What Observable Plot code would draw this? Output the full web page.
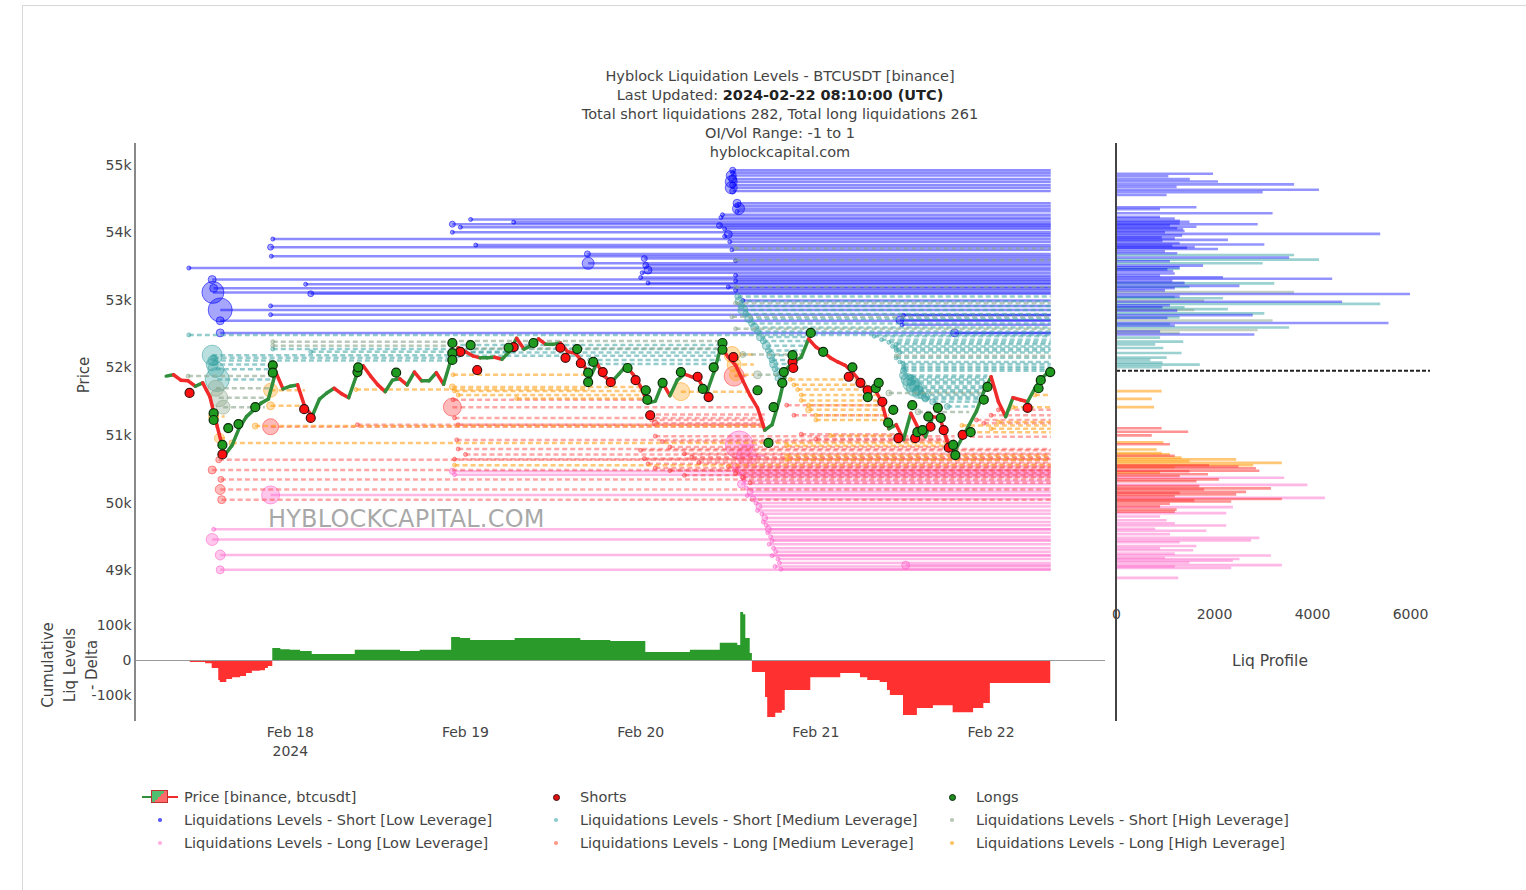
<!DOCTYPE html>
<html><head><meta charset="utf-8">
<script src="https://cdn.jsdelivr.net/npm/d3@7"></script>
<script src="https://cdn.jsdelivr.net/npm/@observablehq/plot@0.6"></script>
<style>
body{margin:0;background:#fff;font-family:"DejaVu Sans",sans-serif;color:#444;}
#root{position:relative;width:1526px;height:890px;overflow:hidden;background:#fff;}
.abs{position:absolute;}
#frame{position:absolute;left:22px;top:5px;width:1510px;height:900px;border-left:1px solid #d8d8d8;border-top:1px solid #d8d8d8;}
#title{position:absolute;left:430px;top:67px;width:700px;text-align:center;font-size:14.5px;line-height:19px;color:#444;}
#title b{color:#222;}
.vlab{position:absolute;transform:translate(-50%,-50%) rotate(-90deg);white-space:nowrap;font-size:15px;color:#444;text-align:center;}
.axisline{position:absolute;background:#888;width:2px;}
.leg{position:absolute;font-size:14.5px;color:#444;white-space:nowrap;line-height:16px;}
.ldot{position:absolute;width:4px;height:4px;border-radius:50%;}
#wm{position:absolute;left:268px;top:505px;font-size:24px;color:rgba(110,110,110,0.6);letter-spacing:0.2px;}
</style></head><body><div id="root">
<div id="frame"></div>
<div id="title">Hyblock Liquidation Levels - BTCUSDT [binance]<br>Last Updated: <b>2024-02-22 08:10:00 (UTC)</b><br>Total short liquidations 282, Total long liquidations 261<br>OI/Vol Range: -1 to 1<br>hyblockcapital.com</div>
<div id="main" class="abs" style="left:0;top:143px;"></div>
<div id="delta" class="abs" style="left:0;top:593px;"></div>
<div id="prof" class="abs" style="left:1100px;top:143px;"></div>
<div class="axisline" style="left:134px;top:143px;height:578px;"></div>
<div class="axisline" style="left:1115px;top:143px;height:578px;background:#444;"></div>
<div id="wm">HYBLOCKCAPITAL.COM</div>
<div class="vlab" style="left:84px;top:375px;">Price</div>
<div class="vlab" style="left:70px;top:665px;line-height:22px;">Cumulative<br>Liq Levels<br>- Delta</div>
<div class="abs" style="left:1170px;top:652px;width:200px;text-align:center;font-size:15.5px;color:#444;">Liq Profile</div>
<div id="legend"></div>
</div>
<script>
// ---------- DATA ----------
const startTime = Date.UTC(2024, 1, 17, 8);      // first candle
const lastUpdatedHour = 120.17;                   // 2024-02-22 08:10 UTC, hours after start
const dayTicks = ["2024-02-18", "2024-02-19", "2024-02-20", "2024-02-21", "2024-02-22"];
const priceTicks = [49000, 50000, 51000, 52000, 53000, 54000, 55000];
const deltaTicks = [-100000, 0, 100000];
const profileTicks = [0, 2000, 4000, 6000];

// hourly closes, BTCUSDT
const priceOpen0 = 51880;
const priceClose = [
51900,51820,51810,51730,51780,51570,51130,50710,50850,51110,
51280,51380,51480,51540,51940,51690,51730,51750,51420,51290,
51540,51630,51700,51620,51560,51870,52030,51880,51750,51650,
51820,51840,51750,51940,51810,51810,51930,51760,52120,52300,
52240,52180,52150,52150,52160,52130,52240,52440,52280,52330,
52430,52350,52350,52370,52240,52220,52100,51850,52070,51880,
51790,51910,52030,51900,51720,51480,51510,51780,51590,51820,
51910,51870,51820,51620,51930,52310,52160,52040,51810,51590,
51410,51080,51160,51530,51990,52100,52160,52430,52310,52240,
52150,52090,52040,51940,51810,51650,51700,51500,51100,51160,
50940,51330,51110,50980,51280,51260,50910,50760,50960,51160,
51360,51650,51870,51500,51280,51560,51530,51500,51700,51850,
51960];

// liquidated positions [hour, price]
const shorts = [[2.2,51630],[6.7,50720],[17.9,51390],[18.8,51260],[39.3,52240],[41.6,51970],[46.6,52310],[53,52300],[53.7,52150],[55.8,52070],[58.8,51940],[59.9,51790],[63.3,51820],[65.3,51300],[71.8,51870],[73.3,51570],[76.7,52160],[84.8,52090],[84.9,52000],[92.5,51870],[94.1,51780],[95.1,51670],[97.1,51500],[99.3,50960],[101.6,50960],[103.7,51130],[105.5,51080],[106.2,50820],[108.1,51010],[117,51410]];
const longs = [[5.5,51330],[5.5,51230],[6.7,50860],[7.5,51110],[8.9,51170],[11.2,51420],[13.6,52040],[13.6,51930],[25.2,51940],[25.3,52010],[30.5,51930],[38.2,52370],[38.2,52220],[38.2,52120],[40.7,52340],[45.9,52300],[49.3,52370],[55.3,52280],[57.5,52090],[56.8,51930],[56.8,51790],[62.2,52000],[64.7,51670],[64.9,51530],[67,51780],[69.5,51940],[72.5,51690],[74,52010],[75.2,52370],[75.2,52270],[80,51670],[81.5,50890],[82.2,51420],[83.4,51780],[83.6,51940],[84.8,52190],[87.3,52520],[89,52240],[93,52010],[96.2,51700],[96.6,51780],[95.1,51570],[98.6,51380],[97.9,51190],[101.2,51450],[101.9,51050],[102.6,51080],[103.4,51280],[104.7,51410],[105.1,51260],[107.1,50710],[106.8,50860],[109.2,51050],[111,51530],[111.5,51720],[118.5,51700],[118.8,51820],[120.1,51940]];

// liquidation levels [startHour, endHour (null = still open), price, bubble size]
const shortLow = [[76.6,null,54930,3],[76.6,null,54890,2],[76.4,null,54850,5],[76.6,null,54800,4],[76.4,null,54760,6],[76.6,null,54710,3],[76.4,null,54670,6],[76.6,null,54620,3],
[77.2,null,54440,4],[77.2,null,54400,2],[77.4,null,54360,6],[77.2,null,54320,2],[75.2,null,54270,2],[75.0,null,54230,2],
[40.7,null,54200,2],[46.6,null,54160,2],[38.2,null,54130,3],[74.8,null,54110,3],[39.3,null,54085,2],[75.5,null,54060,2],[38.2,null,54010,2],[76.0,null,53980,4],[75.5,null,53950,2],
[13.6,null,53910,2],[76.2,null,53870,2],[41.4,null,53820,2],[13.3,null,53790,3],[76.5,null,53750,2],[56.7,null,53690,3],[13.4,null,53655,2],[64.5,null,53620,3],[77.0,null,53590,2],[56.8,null,53550,6],[64.7,null,53520,3],[2.1,null,53480,2],[65.0,null,53450,4],[64.2,null,53410,2],[77.0,null,53370,2],[64.0,null,53340,2],
[5.3,null,53310,4],[77.0,null,53290,2],[65.0,null,53260,2],[18.1,null,53240,2],[76.0,null,53200,2],[5.5,null,53180,4],[77.0,null,53150,2],[5.4,null,53120,11],[18.8,null,53100,3],[78.0,null,53000,2],[13.3,null,52920,2],[6.4,null,52860,12],[13.3,null,52790,2],[100.0,null,52780,2],[99.5,null,52710,4],[6.4,null,52700,4],[99.8,null,52640,2],[6.4,null,52520,4],[107.0,null,52520,4]];
const shortMed = [[2.1,null,52490,2],[5.3,38,52190,10],[5.5,38,52150,3],[5.4,38,52110,5],[5.3,14,52050,6],[5.8,14,51980,8],[6.0,13.5,51830,12],[13.6,75,52280,2],[18.8,47,52240,2],[38.2,75,52340,2],[38.5,75,52230,2],[39,75,52180,2],[57,75,52120,2],[57,74.5,52060,2],
[77.3,null,53060,3],[77.5,null,52990,4],[77.8,null,52920,3],[78.0,null,52860,5],[78.4,null,52800,3],[78.8,null,52730,4],[79.2,null,52660,3],[79.6,null,52600,4],[80.0,null,52540,3],[80.4,87,52460,4],[80.8,87,52400,3],[81.2,86.8,52330,4],[81.5,86.5,52260,3],[81.8,85.5,52190,4],[82.0,85,52120,3],[82.2,84.8,52060,4],[82.4,84.5,51990,3],[82.6,84.2,51920,3],[82.8,84,51850,3],[83.0,83.8,51780,2],
[96,null,52470,2],[97,null,52420,2],[98,null,52380,2],[99,null,52350,2],[98.5,null,52320,2],[99,null,52290,2],[99,null,52260,2],[99.5,null,52230,2],[99,null,52150,2],[99.5,null,52090,2],[100,null,52060,2],[100,null,52020,2],[100,null,51990,2],[100,null,51960,3],[100,111.5,51890,4],[101,111.4,51860,3],[100.5,111.3,51830,6],[101,111.2,51800,4],[101,111.2,51770,8],[101.5,111.1,51730,5],[101.5,111,51700,8],[102,110.8,51670,5],[102,110.8,51640,6],[102.5,110.5,51600,4],[103,110.5,51570,4],[103,110.3,51540,3],[104,110.2,51500,3],[106,109.8,51430,3]];
const shortHigh = [[2.0,13.5,51880,2],[5.8,13.5,51700,8],[6.2,13,51560,9],[6.8,12.5,51420,7],[13.6,38,52330,2],[13.6,38,52390,2],[38,75,52400,2],[39,75,52290,2],[77,null,53775,2],[77,null,53600,2],[77,null,53200,2],[77,null,52960,2],[76.5,null,52760,2],[77,null,52580,2],[78,86,52200,3],[80,84,51900,4],[98,111,51630,3],[99,null,52180,2],[102,109,51350,3]];
const longLow = [[5.3,null,49460,6],[6.4,null,49230,5],[6.4,null,49010,4],[5.5,null,49610,2],[13.3,null,50120,9],[38.2,null,50470,3],[38.5,null,50420,2],[77.5,80,50860,14],[78.5,81,50700,10],
[77.0,null,50540,3],[77.0,null,50490,3],[77.5,null,50440,2],[78.0,null,50390,3],[78.2,null,50330,2],[77.8,null,50280,4],[78.5,null,50220,2],[79.0,null,50170,3],[78.6,null,50110,2],[79.4,null,50060,3],[79.8,null,50000,2],[80.2,null,49950,3],[80.0,null,49890,2],[80.6,null,49840,2],[81.0,null,49780,3],[80.8,null,49720,2],[81.2,null,49670,2],[81.5,null,49610,3],[81.4,null,49560,2],[81.8,null,49500,2],[82.0,null,49440,2],[81.6,null,49390,2],[82.2,null,49330,2],[82.5,null,49280,2],[82.0,null,49220,2],[82.8,null,49170,2],[83.0,null,49110,2],[100.3,null,49080,4],[82.4,null,49060,2],[83.2,null,49020,2]];
const longMed = [[5.3,null,50490,4],[6.4,null,50200,5],[6.6,null,50050,4],[6.2,null,50640,3],[6.5,null,50350,3],[13.3,81,51130,8],[25.2,81,51160,2],[38.3,65,51530,2],[38.2,80,51420,9],[38.5,81,51260,2],[39,81,51160,2],[38.8,107,50935,2],[39,null,50800,2],[40,null,50720,2],[38.5,null,50650,2],
[65,81,51310,2],[65.5,81,51230,2],[66,81,51180,3],[66,107,50990,2],[67,106.5,50910,2],[68,107,50830,2],[64,null,50780,2],[70,null,50730,2],[71,null,50680,2],[64.5,null,50660,2],[72,null,50600,2],[65,null,50580,2],[76,null,50540,2],[66,null,50520,2],[68,null,50480,2],[77,null,50440,2],[70,null,50410,2],[78,null,50380,2],[79,null,50300,2],[76.8,78.5,51880,10],
[84,97.5,51450,2],[85,98,51300,2],[86,100,51020,2],[88,106.5,50950,2],[108,null,50980,2],[110,null,51230,2],[112,null,51300,2],[111,null,51180,2],[113,null,51380,2]];
const longHigh = [[13.3,18,51670,7],[13.3,18,51440,4],[11.2,81,51140,3],[8,106.5,50890,3],[5.5,7,51280,5],[6.3,7,50960,5],[25,57,51680,2],[38.2,64.5,51720,3],[38.5,64.8,51660,2],[39,65,51600,2],[38.3,57,51900,2],[47,65,51550,2],[38.5,null,50560,2],[69.5,79,51650,9],[76.5,79.5,52200,8],[76.8,79.5,52050,7],[77,79.5,51900,6],
[84.5,94.5,51830,2],[85,95,51750,2],[85.5,96.5,51680,2],[86,97,51600,2],[86,97.5,51520,2],[87,98,51450,2],[87,98,51380,3],[88,98,51300,2],[88,98,51230,2],[90,100,51000,2],[84,106.5,50850,2],[84,null,50700,2],[84,null,50640,2],[108,null,51150,2],[109,null,51050,2],[112,null,51100,2],[113,null,51200,2],[115,null,51420,2],[118,null,51600,2]];

// cumulative liq levels delta (thousands), step changes [hour, value]
const deltaSteps = [[0,-1],[2.3,-6],[4.4,-9],[5.3,-23],[6.2,-57],[6.4,-63],[7.3,-54],[8.1,-49],[9.2,-46],[10,-37],[10.8,-31],[11.9,-29],[12.6,-23],[13,-17],[13.6,34],[14.7,31],[16,29],[17.4,26],[19,17],[24.9,29],[31.1,26],[33.8,29],[38.1,66],[39.3,63],[40.7,57],[46.8,63],[55.8,57],[59.9,54],[64.7,23],[70.8,29],[74.9,49],[77.3,43],[77.7,137],[78.1,131],[78.4,63],[79,20],[79.3,-34],[81.1,-106],[81.4,-163],[82.5,-151],[83.4,-143],[83.8,-86],[87.3,-49],[91.4,-37],[94.1,-49],[95.1,-57],[96.8,-63],[97.8,-86],[98.2,-100],[100,-157],[101.9,-137],[104.1,-129],[106.8,-149],[109.6,-137],[111,-123],[111.9,-66],[115.6,-66],[120.17,-60]];

// liquidation profile [price, size]
const profShortLow = [[54877,1980],[54840,1068],[54798,1507],[54762,2081],[54720,3635],[54683,1237],[54641,4142],[54605,2993],[54563,1034],[54380,1642],[54353,899],[54291,3196],[54238,899],[54215,1200],[54181,1304],[54165,1500],[54140,1300],[54128,2892],[54110,1100],[54092,1642],[54070,1250],[54055,1372],[54030,1400],[54010,1000],[53987,5392],[53960,1350],[53934,932],[53920,1200],[53898,2284],[53880,950],[53850,1300],[53830,3027],[53810,1150],[53793,1608],[53780,1450],[53762,2081],[53730,1000],[53700,1250],[53636,3534],[53580,1100],[53516,1777],[53490,1300],[53460,1050],[53437,1169],[53400,1200],[53370,900],[53343,2182],[53322,4412],[53290,1150],[53260,1400],[53217,2520],[53180,1200],[53150,1000],[53097,6000],[53060,1300],[52981,4615],[52930,1100],[52900,950],[52850,1250],[52783,2791],[52740,1050],[52667,5561],[52630,1200],[52540,900],[52495,2824]];
const profShortMed = [[53673,3635],[53605,4142],[53552,2993],[53470,1300],[53254,3230],[53200,1500],[53050,1200],[53034,2182],[52950,5392],[52900,1400],[52872,2284],[52809,3027],[52750,1300],[52650,1100],[52599,3534],[52450,900],[52390,1372],[52350,800],[52296,966],[52222,1338],[52154,1034],[52120,700],[52080,950],[52050,1710],[52013,932]];
const profShortHigh = [[53123,3635],[53000,1800],[52860,1600],[52704,3196],[52563,2892],[52520,1300]];
const profLongHigh = [[51657,932],[51542,730],[51421,777],[50898,966],[50793,831],[50741,932],[50720,1100],[50673,1338],[50646,2453],[50620,1500],[50594,3385],[50560,2800],[50530,1200],[50450,900]];
const profLongMed = [[51107,932],[51055,1473],[51002,730],[50871,1101],[50700,1200],[50560,1900],[50540,2500],[50515,2858],[50479,2926],[50470,1500],[50426,1878],[50400,1300],[50350,2100],[50322,1642],[50250,1700],[50217,3162],[50200,1800],[50165,2656],[50150,1300],[50128,2453],[50100,1200],[50060,3385],[50040,1600],[50023,2351],[49990,1100],[49950,900],[49903,1237],[49870,1200]];
const profLongLow = [[50374,3433],[50269,3906],[50076,4264],[49939,2385],[49851,2250],[49800,900],[49746,1034],[49700,1200],[49667,2250],[49620,800],[49589,1845],[49540,1100],[49484,2926],[49447,2757],[49420,1300],[49363,1642],[49330,900],[49301,1574],[49250,1200],[49222,3162],[49190,1000],[49170,2520],[49144,2385],[49120,1500],[49081,3385],[49060,1200],[49039,2351],[48892,1270]];

// ---------- STYLE ----------
const C = {
  shortLow: "#0000ff", shortMed: "#3aa3a3", shortHigh: "#8aa58a",
  longLow: "#ff5fc8", longMed: "#ff3b3b", longHigh: "#ffa21a",
  up: "#2f8f3a", down: "#f02a2a"
};
const hour = 3600e3;
const T = h => new Date(startTime + h * hour);
const xDomain = [T(-5.205), T(127.67)];
const yDomain = [48660, 55325];
const font = {fontFamily: "DejaVu Sans", fontSize: "14px", color: "#444", overflow: "visible", background: "transparent"};

function levelMarks(levels, color, dash, width, op) {
  const data = levels.map(([s, e, p, r]) => ({s: T(s), e: T(e == null ? lastUpdatedHour : e), p, r}));
  return [
    Plot.link(data, {x1: "s", x2: "e", y1: "p", y2: "p", stroke: color, strokeOpacity: op, strokeWidth: width, strokeDasharray: dash}),
    Plot.dot(data, {x: "s", y: "p", r: "r", fill: color, fillOpacity: 0.35, stroke: color, strokeOpacity: 0.55, strokeWidth: 1})
  ];
}

const candles = priceClose.map((c, i) => ({t0: T(i - 1), t1: T(i), open: i === 0 ? priceOpen0 : priceClose[i - 1], close: c}));

const main = Plot.plot({
  width: 1110, height: 450, marginLeft: 135, marginRight: 5, marginTop: 0, marginBottom: 0,
  style: font,
  x: {type: "utc", domain: xDomain, axis: null},
  y: {domain: yDomain, ticks: priceTicks, tickFormat: d => d / 1000 + "k", tickSize: 0, tickPadding: 4, label: null},
  r: {type: "linear", domain: [0, 20], range: [0, 20]},
  marks: [
    ...levelMarks(longLow, C.longLow, null, 2.5, 0.45),
    ...levelMarks(longMed, C.longMed, "5,3", 2.5, 0.45),
    ...levelMarks(longHigh, C.longHigh, "5,3", 2.5, 0.6),
    ...levelMarks(shortLow, C.shortLow, null, 2.5, 0.45),
    ...levelMarks(shortMed, C.shortMed, "5,3", 2.5, 0.55),
    ...levelMarks(shortHigh, C.shortHigh, "5,3", 2.5, 0.6),
    Plot.link(candles, {x1: "t0", x2: "t1", y1: "open", y2: "close", stroke: d => d.close >= d.open ? C.up : C.down, strokeWidth: 3.5, strokeLinecap: "round"}),
    Plot.dot(shorts, {x: d => T(d[0]), y: d => d[1], r: 4.5, fill: "#ff1010", stroke: "#3a1010", strokeWidth: 1.2}),
    Plot.dot(longs, {x: d => T(d[0]), y: d => d[1], r: 4.5, fill: "#1f9a1f", stroke: "#0a2a0a", strokeWidth: 1.2})
  ]
});
document.getElementById("main").append(main);

const deltaData = deltaSteps.map(([h, v]) => ({t: T(h), v: v * 1000}));
const dayDates = dayTicks.map(s => new Date(s + "T00:00:00Z"));
const delta = Plot.plot({
  width: 1110, height: 177, marginLeft: 135, marginRight: 5, marginTop: 0, marginBottom: 50,
  style: font,
  x: {type: "utc", domain: xDomain},
  y: {domain: [-171400, 191400], ticks: deltaTicks, tickFormat: d => d === 0 ? "0" : d / 1000 + "k", tickSize: 0, tickPadding: 4, label: null},
  marks: [
    Plot.areaY(deltaData, {x: "t", y1: 0, y2: d => Math.max(0, d.v), curve: "step-after", fill: "#2a9a2a"}),
    Plot.areaY(deltaData, {x: "t", y1: 0, y2: d => Math.min(0, d.v), curve: "step-after", fill: "#ff3030"}),
    Plot.ruleY([0], {stroke: "#999", strokeWidth: 1.2}),
    Plot.axisX(dayDates, {tickSize: 0, tickPadding: 3, lineHeight: 1.35, label: null,
      tickFormat: (d, i) => (i === 0 ? d3.utcFormat("%b %d")(d) + "\n2024" : d3.utcFormat("%b %d")(d))})
  ]
});
document.getElementById("delta").append(delta);

const profData = [
  ...profShortMed.map(([p, v]) => ({p, v, c: "shortMed"})),
  ...profShortHigh.map(([p, v]) => ({p, v, c: "shortHigh"})),
  ...profShortLow.map(([p, v]) => ({p, v, c: "shortLow"})),
  ...profLongLow.map(([p, v]) => ({p, v, c: "longLow"})),
  ...profLongHigh.map(([p, v]) => ({p, v, c: "longHigh"})),
  ...profLongMed.map(([p, v]) => ({p, v, c: "longMed"}))
];
const profOp = {shortLow: 0.42, shortMed: 0.5, shortHigh: 0.5, longLow: 0.45, longMed: 0.55, longHigh: 0.6};
const prof = Plot.plot({
  width: 340, height: 577, marginLeft: 16, marginRight: 10, marginTop: 0, marginBottom: 127,
  style: font,
  x: {domain: [0, 6408], ticks: profileTicks, tickFormat: d => String(d), tickSize: 0, tickPadding: 16, label: null},
  y: {domain: yDomain, axis: null},
  marks: [
    Plot.ruleY(profData, {y: "p", x1: 0, x2: "v", stroke: d => C[d.c], strokeOpacity: d => profOp[d.c], strokeWidth: 2.6}),
    Plot.ruleY([priceClose[priceClose.length - 1]], {stroke: "#222", strokeWidth: 2, strokeDasharray: "4,2"})
  ]
});
document.getElementById("prof").append(prof);

// ---------- LEGEND ----------
const legendItems = [
  [556, 797, "Shorts", "#e01010", 7, "#401010"], [952, 797, "Longs", "#1f8a1f", 7, "#0a2a0a"],
  [160, 820, "Liquidations Levels - Short [Low Leverage]", "#5a5aff", 3.5], [556, 820, "Liquidations Levels - Short [Medium Leverage]", "#8ccccc", 3.5], [952, 820, "Liquidations Levels - Short [High Leverage]", "#b9c9b9", 3.5],
  [160, 843, "Liquidations Levels - Long [Low Leverage]", "#ffb0e6", 3.5], [556, 843, "Liquidations Levels - Long [Medium Leverage]", "#ff9a8a", 3.5], [952, 843, "Liquidations Levels - Long [High Leverage]", "#ffc46a", 3.5]
];
const leg = document.getElementById("legend");
let html = `<div class="abs" style="left:142px;top:796px;width:36px;height:2px;background:linear-gradient(90deg,#2f8f3a 50%,#f02a2a 50%);"></div>
<div class="abs" style="left:151px;top:790px;width:17px;height:13px;background:linear-gradient(135deg,#4fbf6f 50%,#ff6a6a 50%);border:1px solid #c03030;box-sizing:border-box;"></div>
<div class="leg" style="left:184px;top:789px;">Price [binance, btcusdt]</div>`;
for (const [x, y, label, col, size, stroke] of legendItems) {
  html += `<div class="ldot" style="left:${x - size / 2}px;top:${y - size / 2}px;width:${size}px;height:${size}px;background:${col};${stroke ? `border:1px solid ${stroke};box-sizing:border-box;` : ""}"></div>`;
  html += `<div class="leg" style="left:${x + 24}px;top:${y - 8}px;">${label}</div>`;
}
leg.innerHTML = html;
</script>
</body></html>
